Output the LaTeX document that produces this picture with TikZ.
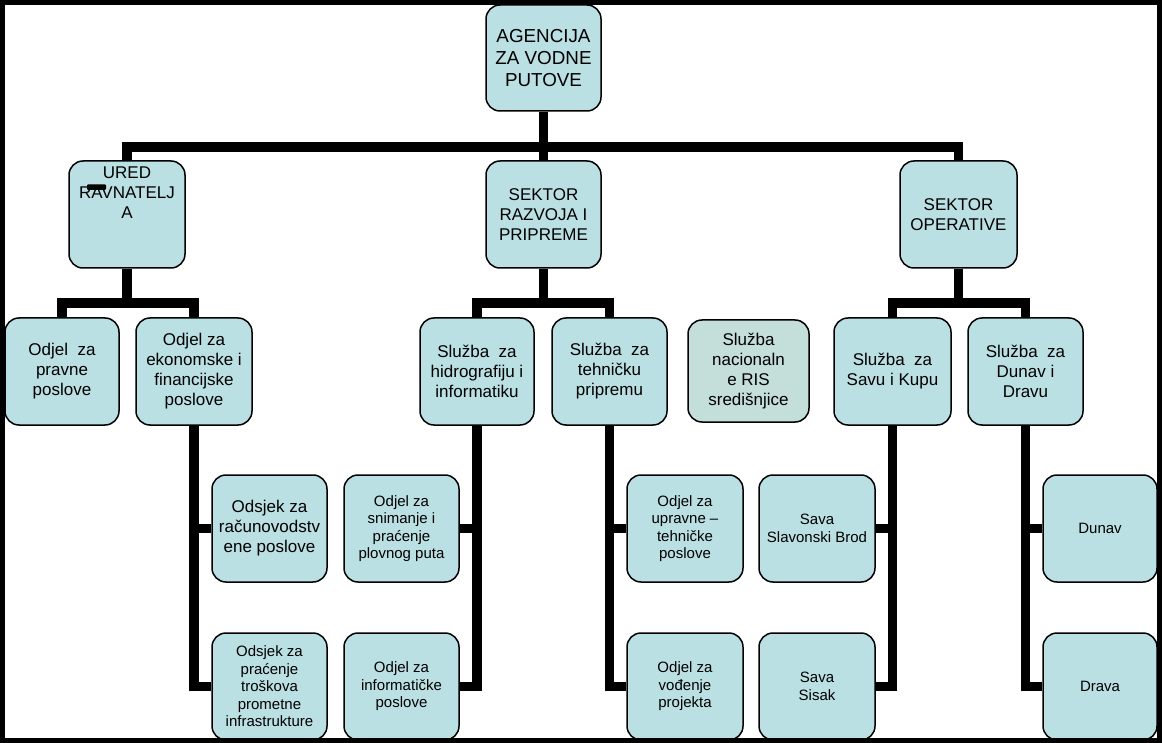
\documentclass[tikz,border=0pt]{standalone}
\usepackage{fontspec}
\setmainfont{Liberation Sans}
\usetikzlibrary{positioning,backgrounds}
\definecolor{boxc}{RGB}{187,224,227}
\definecolor{risc}{RGB}{196,222,217}
\tikzset{
  box/.style={draw,line width=1.5pt,rounded corners=14pt,fill=#1,minimum width=115pt,minimum height=107pt,inner sep=2pt,align=center,font=\fontsize{17}{20}\selectfont},
  box/.default={boxc},
  sm/.style={font=\fontsize{15}{17.5}\selectfont},
  conn/.style={line width=9.5pt,line join=miter},
}

\begin{document}
\begin{tikzpicture}[x=1pt,y=-1pt]
 \useasboundingbox (0,0) rectangle (1162,743);
 % upper levels
 \node[box,minimum height=106pt,font=\fontsize{18.8}{22}\selectfont] (agency) at (543.5,58) {AGENCIJA\\ZA VODNE\\PUTOVE};
 \node[box,minimum width=116pt] (ured) at (127,214.5) {};
 \node[inner sep=0pt,align=center,font=\fontsize{17}{20}\selectfont,below=6pt of ured.north] (ured-t) {URED\\RAVNATELJ\\A};
 \node[box] (razvoj) at (543.5,214.5) {SEKTOR\\RAZVOJA I\\PRIPREME};
 \node[box,minimum width=117pt] (operat) at (958.5,214.5) {SEKTOR\\OPERATIVE};
 \coordinate (bus) at (543.5,147);
 % sluzbe / odjeli
 \node[box,minimum width=114pt] (pravne) at (62,371.5) {Odjel \ za\\pravne\\poslove};
 \node[box,minimum width=116pt] (ekonom) at (194,371.5) {Odjel za\\ekonomske i\\financijske\\poslove};
 \node[box,minimum width=114pt] (hidro) at (477,371.5) {Služba \ za\\hidrografiju i\\informatiku};
 \node[box] (tehn) at (609.5,371.5) {Služba \ za\\tehničku\\pripremu};
 \node[box=risc,minimum width=121pt,minimum height=102pt] (ris) at (748.5,371) {Služba\\nacionaln\\e RIS\\središnjice};
 \node[box,minimum width=117pt] (savu) at (892.5,371.5) {Služba \ za\\Savu i Kupu};
 \node[box] (dunavS) at (1025.5,371.5) {Služba \ za\\Dunav i\\Dravu};
 % lowest level
 \node[box] (racun) at (269.5,528.5) {Odsjek za\\računovodstv\\ene poslove};
 \node[box,sm] (prac) at (269.5,686.5) {Odsjek za\\praćenje\\troškova\\prometne\\infrastrukture};
 \node[box,sm] (snim) at (401.5,528.5) {Odjel za\\snimanje i\\praćenje\\plovnog puta};
 \node[box,sm] (infor) at (401.5,686.5) {Odjel za\\informatičke\\poslove};
 \node[box,sm,minimum width=116pt] (uprav) at (685,528.5) {Odjel za\\upravne –\\tehničke\\poslove};
 \node[box,sm,minimum width=116pt] (vodj) at (685,686.5) {Odjel za\\vođenje\\projekta};
 \node[box,sm,minimum width=116pt] (brod) at (817,528.5) {Sava\\Slavonski Brod};
 \node[box,sm,minimum width=116pt] (sisak) at (817,686.5) {Sava\\Sisak};
 \node[box,sm,minimum width=114pt] (dunav) at (1100,528.5) {Dunav};
 \node[box,sm,minimum width=114pt] (drava) at (1100,686.5) {Drava};
 \fill[rounded corners=1pt] (87,184.5) rectangle (106,190);
 \begin{scope}[on background layer]
  \draw[conn] (agency) -- (razvoj);
  \draw[conn] (ured.north) |- (bus) -| (operat.north);
  \foreach \p/\a/\b in {ured/pravne/ekonom,razvoj/hidro/tehn,operat/savu/dunavS}{
   \draw[conn] (\p.south) -- ++(0,34.5) coordinate (\p-b);
   \draw[conn] (\a.north) |- (\p-b) -| (\b.north);
  }
  \foreach \p/\a/\b in {ekonom/racun/prac,hidro/snim/infor,tehn/uprav/vodj,savu/brod/sisak,dunavS/dunav/drava}{
   \draw[conn] (\p.south) |- (\b);
   \draw[conn] (\a) -- (\a -| \p.south);
  }
 \end{scope}
 \draw[line width=5pt] (2.5,2.5) rectangle (1159.5,740.5);
\end{tikzpicture}
\end{document}
